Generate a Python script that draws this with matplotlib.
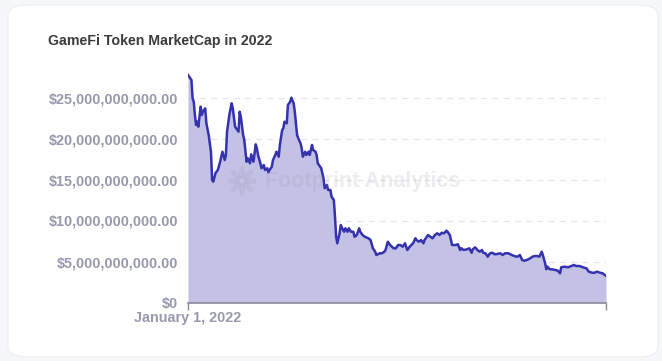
import numpy as np
import pandas as pd
import matplotlib
matplotlib.use("Agg")
import matplotlib.pyplot as plt
from matplotlib.patches import FancyBboxPatch
from matplotlib.ticker import FuncFormatter

# days since Jan 1 2022, market cap in billions of USD
days = [0, 1, 3, 4, 5, 6, 7, 8, 9, 11, 12, 13, 15, 16, 18, 20, 21, 22, 24, 26,
        28, 30, 32, 33, 34, 36, 38, 39, 41, 42, 44, 45, 46, 48, 49, 51, 52, 54, 55, 57,
        59, 60, 61, 63, 64, 66, 67, 69, 70, 71, 73, 74, 76, 77, 79, 80, 82, 83, 84, 86,
        87, 89, 90, 92, 93, 95, 96, 98, 99, 100, 102, 103, 105, 106, 108, 109, 111, 112, 113, 115,
        116, 118, 119, 121, 122, 124, 125, 127, 128, 129, 130, 132, 133, 135, 136, 137, 139, 140, 142, 144,
        145, 147, 149, 150, 152, 154, 157, 159, 161, 163, 164, 167, 169, 171, 172, 174, 176, 179, 181, 183,
        185, 187, 189, 191, 193, 196, 198, 199, 201, 203, 205, 206, 208, 209, 211, 213, 215, 217, 219, 221,
        223, 225, 226, 228, 230, 231, 233, 235, 237, 238, 240, 243, 245, 247, 248, 250, 252, 254, 256, 257,
        259, 261, 263, 265, 267, 269, 272, 274, 276, 279, 282, 285, 287, 289, 291, 293, 295, 298, 300, 302,
        304, 306, 308, 309, 311, 312, 313, 315, 317, 320, 322, 324, 325, 328, 331, 334, 336, 338, 341, 344,
        347, 349, 352, 354, 356, 359, 361, 363, 364]
mcap_bn = [27.74, 27.54, 27.13, 24.90, 24.49, 22.87, 21.65, 22.05, 21.44, 23.88, 22.87, 23.27, 23.68, 21.85, 20.43, 18.39, 14.94, 14.73, 15.79, 16.16,
           17.17, 18.39, 17.38, 17.99, 20.83, 22.87, 24.29, 23.68, 21.44, 21.24, 20.83, 23.27, 22.66, 20.43, 19.82, 17.17, 17.59, 16.98, 18.07, 17.17,
           19.29, 18.80, 17.99, 16.98, 16.37, 16.77, 16.16, 16.37, 15.88, 16.16, 16.56, 17.38, 17.99, 18.39, 17.78, 19.21, 21.04, 21.24, 22.05, 21.85,
           24.09, 24.49, 24.98, 24.29, 23.27, 20.43, 20.02, 19.41, 18.80, 17.78, 18.39, 17.99, 18.39, 17.99, 19.21, 18.60, 18.39, 17.99, 16.98, 16.56,
           16.37, 15.15, 13.93, 14.33, 13.72, 13.72, 12.90, 12.50, 10.46, 8.02, 7.22, 8.44, 9.45, 8.84, 8.63, 9.05, 8.63, 9.05, 8.63, 8.63,
           8.02, 8.23, 9.05, 8.63, 8.23, 8.02, 7.83, 7.62, 6.61, 6.20, 5.79, 6.00, 6.00, 6.20, 6.40, 7.41, 7.01, 6.61, 6.61, 7.01,
           7.01, 6.80, 7.22, 6.40, 6.80, 7.22, 7.83, 7.62, 7.41, 7.62, 7.22, 7.62, 8.02, 8.23, 8.02, 7.83, 8.23, 8.44, 8.23, 8.51,
           8.44, 8.76, 8.63, 8.23, 7.01, 7.01, 7.01, 7.10, 6.40, 6.61, 6.40, 6.49, 6.61, 6.07, 6.49, 6.73, 6.40, 6.20, 6.40, 6.07,
           6.00, 5.59, 6.00, 6.07, 5.88, 5.91, 6.00, 5.79, 6.00, 6.00, 5.79, 5.62, 5.59, 5.79, 5.18, 5.10, 5.18, 5.39, 5.59, 5.67,
           5.67, 5.59, 6.20, 5.79, 4.78, 4.05, 4.37, 4.05, 4.05, 3.96, 3.88, 3.56, 4.29, 4.37, 4.29, 4.45, 4.57, 4.45, 4.45, 4.29,
           4.17, 3.76, 3.63, 3.63, 3.76, 3.63, 3.56, 3.35, 3.27]
y_ticks_bn = [0, 5, 10, 15, 20, 25]

dates = pd.Timestamp("2022-01-01") + pd.to_timedelta(days, unit="D")
values = np.array(mcap_bn) * 1e9

plt.rcParams["font.family"] = ["Liberation Sans", "DejaVu Sans"]

fig = plt.figure(figsize=(6.62, 3.61), dpi=100)
fig.patch.set_facecolor("#f6f7f9")
W, H = 662, 361
card = FancyBboxPatch((8 / W, 4 / H), 650 / W, 352 / H,
                      boxstyle="round,pad=0,rounding_size=0.03",
                      transform=fig.transFigure, facecolor="white",
                      edgecolor="#eceef2", linewidth=0.8, zorder=-5)
fig.patches.append(card)

ax = fig.add_axes([188 / W, 1 - 302.5 / H, 418 / W, 229.6 / H])
ax.set_facecolor("none")
ax.fill_between(dates, values, 0, color="#c3c1e6", linewidth=0, zorder=2)
ax.plot(dates, values, color="#3532ae", linewidth=1.8, zorder=3)

ax.set_xlim(pd.Timestamp("2022-01-01"), pd.Timestamp("2022-12-31"))
ax.set_ylim(0, 28e9)
ax.set_yticks([v * 1e9 for v in y_ticks_bn])
ax.yaxis.set_major_formatter(FuncFormatter(lambda v, p: "$0" if v == 0 else "${:,.2f}".format(v)))
ax.set_xticks([pd.Timestamp("2022-01-01"), pd.Timestamp("2022-12-31")])
ax.set_xticklabels(["January 1, 2022", ""])

for v in y_ticks_bn[1:]:
    ax.axhline(v * 1e9, color="#e6e6ec", linewidth=0.9, linestyle=(0, (5, 4)), zorder=1)

for s in ["top", "right", "left"]:
    ax.spines[s].set_visible(False)
ax.spines["bottom"].set_color("#8a8a96")
ax.spines["bottom"].set_linewidth(1.2)
ax.spines["bottom"].set_zorder(4)
ax.tick_params(axis="y", length=0, pad=7, labelsize=10.4, labelcolor="#979aae")
ax.tick_params(axis="x", length=5, width=1, color="#8a8a96", pad=1, labelsize=10.4, labelcolor="#979aae")
for lbl in ax.get_yticklabels() + ax.get_xticklabels():
    lbl.set_fontweight("bold")

fig.text(48 / W, 1 - 41 / H, "GameFi Token MarketCap in 2022", fontsize=10.2, fontweight="bold",
         color="#3c3c3c", va="center", ha="left")

# watermark
cx, cy = 242 / W, 1 - 181 / H
for a in np.linspace(0, 2 * np.pi, 9)[:-1]:
    dx, dy = np.cos(a), np.sin(a)
    fig.add_artist(plt.Line2D([cx + dx * 5 / W, cx + dx * 12 / W], [cy + dy * 5 / H, cy + dy * 12 / H],
                              transform=fig.transFigure, color="#8c8c9c", alpha=0.15,
                              linewidth=4, solid_capstyle="round", zorder=5))
fig.text(265 / W, cy, "Footprint Analytics", fontsize=15.5, fontweight="bold",
         color="#8c8c9c", alpha=0.15, va="center", ha="left", zorder=5)

fig.savefig("out.png", dpi=100, facecolor=fig.get_facecolor())
